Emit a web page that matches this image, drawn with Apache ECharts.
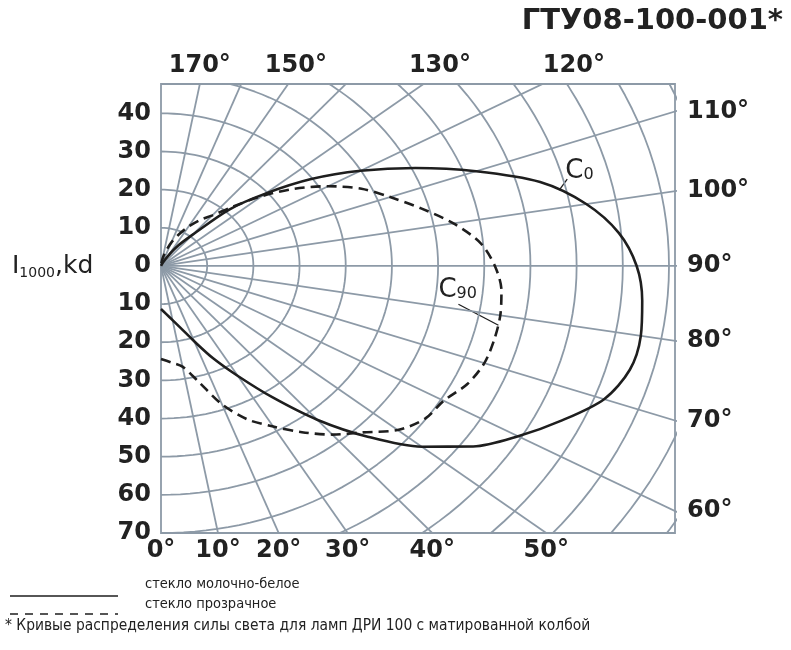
<!DOCTYPE html>
<html>
<head>
<meta charset="utf-8">
<title>ГТУ08-100-001</title>
<script src="https://cdn.jsdelivr.net/npm/echarts@6/dist/echarts.min.js"></script>
<style>
html, body { margin: 0; padding: 0; background: #fff; }
#chartmain { width: 791px; height: 650px; }
</style>
</head>
<body>
<div id="chartmain"></div>
<script>
// angle from nadir, degrees
var angleDeg = [0, 5, 10, 15, 20, 25, 30, 35, 40, 45, 50, 55, 60, 65, 70, 75, 80, 85, 90,
	95, 100, 105, 110, 115, 120, 125, 130, 135, 140, 145, 150, 155, 160, 165, 170, 175, 180];
// C0 plane, milk-white glass (kd per 1000 lm)
var c0Intensity = [11.3, 12.6, 14.4, 17.0, 21.0, 26.7, 33.3, 42.0, 52.6, 63.3, 73.7, 82.5, 89.3,
	95.8, 102.1, 105.1, 105.5, 104.6, 103.0, 99.5, 93.5, 85.0, 72.6, 60.8, 49.9, 39.7, 29.5,
	20.9, 10.8, 6.6, 3.0, 1.0, 0, 0, 0, 0, 0];
// C90 plane, clear glass
var c90Intensity = [24.4, 25.4, 26.8, 31.4, 38.6, 44.4, 48.6, 53.2, 57.7, 61.7, 66.9, 69.8, 70.7,
	73.2, 74.5, 74.7, 74.6, 74.0, 72.3, 69.4, 64.3, 58.3, 52.8, 47.9, 41.8, 35.3, 28.5,
	22.0, 17.3, 14.7, 11.9, 9.1, 6.5, 4.0, 2.0, 0.5, 0];

var circleRadii = [10, 20, 30, 40, 50, 60, 70, 80, 90, 100, 110, 120, 130];
var rayAngles = [10, 20, 30, 40, 50, 60, 70, 80, 90, 100, 110, 120, 130, 140, 150, 160, 170];
var bottomTickAngles = [0, 10, 20, 30, 40, 50];
var rightTickAngles = [110, 100, 90, 80, 70, 60];
var topTickAngles = [170, 150, 130, 120];
var topTickPos = [8.4, 29.2, 60.4, 89.4];

var xMax = 111.3, yMin = -70, yMax = 47.7;
var gridColor = '#8d9aa7';
var inkColor = '#1e1e1e';
var boldFont = '"DejaVu Sans", sans-serif';
var narrowFont = '"Liberation Sans Narrow", "DejaVu Sans Condensed", "Liberation Sans", sans-serif';

function toXY(theta, r) {
	var a = theta * Math.PI / 180;
	return [r * Math.sin(a), -r * Math.cos(a)];
}
function curve(values) {
	var out = [];
	for (var i = 0; i < angleDeg.length; i++) {
		out.push(toXY(angleDeg[i], values[i]));
	}
	return out;
}
function deg(rad) {
	return Math.round(rad * 180 / Math.PI);
}

// polar net (circles + rays), clipped by the grid
var series = [];
circleRadii.forEach(function(r) {
	var pts = [];
	for (var t = 0; t <= 180; t += 2) pts.push(toXY(t, r));
	series.push({ type: 'line', data: pts, showSymbol: false, silent: true, z: 1,
		lineStyle: { color: gridColor, width: 1.8 } });
});
rayAngles.forEach(function(t) {
	series.push({ type: 'line', data: [[0, 0], toXY(t, 160)], showSymbol: false, silent: true, z: 1,
		lineStyle: { color: gridColor, width: 1.8 } });
});
series.push({
	name: 'C0', type: 'line', data: curve(c0Intensity), smooth: 0.3, showSymbol: false, z: 3,
	lineStyle: { color: inkColor, width: 2.6 }
});
series.push({
	name: 'C90', type: 'line', data: curve(c90Intensity), smooth: 0.3, showSymbol: false, z: 3,
	lineStyle: { color: inkColor, width: 2.6, type: [10, 6] }
});

var labelStyle = { fontFamily: boldFont, fontWeight: 'bold', fontSize: 24, color: '#222' };

var option = {
	animation: false,
	backgroundColor: '#fff',
	grid: { left: 161, top: 84, width: 514, height: 449, show: true,
		borderColor: gridColor, borderWidth: 1.8 },
	xAxis: [{
		type: 'value', min: 0, max: xMax, position: 'bottom',
		axisLine: { show: false }, axisTick: { show: false }, splitLine: { show: false },
		axisLabel: Object.assign({
			margin: 6,
			customValues: bottomTickAngles.map(function(t) { return -yMin * Math.tan(t * Math.PI / 180); }),
			formatter: function(v) { return deg(Math.atan(v / -yMin)) + '°'; }
		}, labelStyle)
	}, {
		type: 'value', min: 0, max: xMax, position: 'top',
		axisLine: { show: false }, axisTick: { show: false }, splitLine: { show: false },
		axisLabel: Object.assign({
			margin: 6,
			customValues: topTickPos,
			formatter: function(v) { return topTickAngles[topTickPos.indexOf(v)] + '°'; }
		}, labelStyle)
	}],
	yAxis: [{
		type: 'value', min: yMin, max: yMax, interval: 10, position: 'left',
		axisLine: { show: false }, axisTick: { show: false }, splitLine: { show: false },
		axisLabel: Object.assign({
			margin: 10,
			formatter: function(v) { return v % 10 === 0 ? String(Math.abs(v)) : ''; }
		}, labelStyle)
	}, {
		type: 'value', min: yMin, max: yMax, position: 'right',
		axisLine: { show: false }, axisTick: { show: false }, splitLine: { show: false },
		axisLabel: Object.assign({
			margin: 12,
			customValues: rightTickAngles.map(function(t) { return xMax * Math.tan((t - 90) * Math.PI / 180); }),
			formatter: function(v) { return (90 + deg(Math.atan(v / xMax))) + '°'; }
		}, labelStyle)
	}],
	series: series
};

var myChart = echarts.init(document.getElementById('chartmain'));
myChart.setOption(option);

// annotations: anchors taken on the curves through the chart's own scales
var a0 = myChart.convertToPixel({ gridIndex: 0 }, toXY(103, 88.5));
var a90 = myChart.convertToPixel({ gridIndex: 0 }, toXY(78, 74.7));

myChart.setOption({
	graphic: [{
		type: 'text', right: 8, top: 7,
		style: { text: 'ГТУ08-100-001*', font: 'bold 29px ' + boldFont, fill: '#222' }
	}, {
		type: 'text', x: 12, y: 266,
		style: {
			text: '{a|I}{s|1000}{a|,kd}', verticalAlign: 'middle',
			rich: {
				a: { fontSize: 25, fontFamily: boldFont, fill: '#222' },
				s: { fontSize: 14, fontFamily: boldFont, fill: '#222', padding: [15, 0, 0, 0] }
			}
		}
	}, {
		type: 'line', shape: { x1: a0[0], y1: a0[1], x2: a0[0] + 8, y2: a0[1] - 11 },
		style: { stroke: inkColor, lineWidth: 1.3 }
	}, {
		type: 'text', x: a0[0] + 6, y: a0[1] - 19,
		style: {
			text: '{c|C}{s|0}', verticalAlign: 'middle',
			rich: {
				c: { fontSize: 26, fontFamily: boldFont, fill: '#222' },
				s: { fontSize: 16, fontFamily: boldFont, fill: '#222', padding: [8, 0, 0, 0] }
			}
		}
	}, {
		type: 'line', shape: { x1: a90[0] - 40, y1: a90[1] - 21, x2: a90[0], y2: a90[1] },
		style: { stroke: inkColor, lineWidth: 1.3 }
	}, {
		type: 'text', x: a90[0] - 60, y: a90[1] - 35,
		style: {
			text: '{c|C}{s|90}', verticalAlign: 'middle',
			rich: {
				c: { fontSize: 26, fontFamily: boldFont, fill: '#222' },
				s: { fontSize: 16, fontFamily: boldFont, fill: '#222', padding: [8, 0, 0, 0] }
			}
		}
	}, {
		type: 'line', shape: { x1: 10, y1: 596, x2: 118, y2: 596 },
		style: { stroke: inkColor, lineWidth: 1.3 }
	}, {
		type: 'line', shape: { x1: 10, y1: 614, x2: 118, y2: 614 },
		style: { stroke: inkColor, lineWidth: 1.3, lineDash: [8, 7] }
	}, {
		type: 'text', x: 145, y: 584,
		style: { text: 'стекло молочно-белое', verticalAlign: 'middle', font: '14.5px ' + narrowFont, fill: '#222' }
	}, {
		type: 'text', x: 145, y: 604,
		style: { text: 'стекло прозрачное', verticalAlign: 'middle', font: '14.5px ' + narrowFont, fill: '#222' }
	}, {
		type: 'text', x: 5, y: 626,
		style: { text: '* Кривые распределения силы света для ламп ДРИ 100 с матированной колбой',
			verticalAlign: 'middle', font: '15.4px ' + narrowFont, fill: '#222' }
	}]
});
</script>
</body>
</html>
